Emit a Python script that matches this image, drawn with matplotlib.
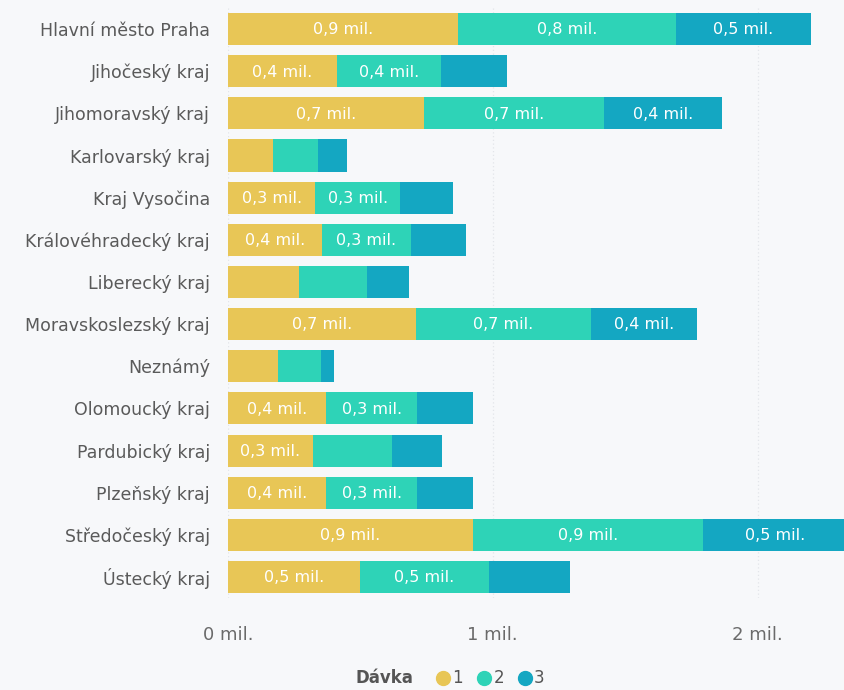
import matplotlib
matplotlib.use("Agg")
import matplotlib.pyplot as plt
from matplotlib.lines import Line2D
import numpy as np

regions = ["Hlavní město Praha", "Jihočeský kraj", "Jihomoravský kraj", "Karlovarský kraj",
           "Kraj Vysočina", "Královéhradecký kraj", "Liberecký kraj", "Moravskoslezský kraj",
           "Neznámý", "Olomoucký kraj", "Pardubický kraj", "Plzeňský kraj",
           "Středočeský kraj", "Ústecký kraj"]
dose1 = [0.87, 0.41, 0.74, 0.17, 0.33, 0.355, 0.27, 0.71, 0.19, 0.37, 0.32, 0.37, 0.925, 0.50]
dose2 = [0.82, 0.395, 0.68, 0.17, 0.32, 0.335, 0.255, 0.66, 0.16, 0.345, 0.30, 0.345, 0.87, 0.485]
dose3 = [0.51, 0.25, 0.445, 0.11, 0.20, 0.21, 0.16, 0.40, 0.05, 0.21, 0.19, 0.21, 0.54, 0.305]
series_names = ["1", "2", "3"]
colors = ["#E8C656", "#2ED3B7", "#14A7C2"]
xticks = [0, 1, 2]
xtick_labels = ["0 mil.", "1 mil.", "2 mil."]

plt.rcParams['font.family'] = ['DejaVu Sans']

fig = plt.figure(figsize=(8.45, 6.9), dpi=100)
bg = "#F7F8FA"
fig.patch.set_facecolor(bg)
ax = fig.add_axes([0.2698, 0.1333, 0.7302, 0.8551])
ax.set_facecolor(bg)

y = np.arange(len(regions))
left = np.zeros(len(regions))
for vals, col, name in zip([dose1, dose2, dose3], colors, series_names):
    vals = np.array(vals)
    ax.barh(y, vals, left=left, height=0.76, color=col, label=name, zorder=3)
    for yi, l, v in zip(y, left, vals):
        if v >= 0.31:
            txt = f"{v:.1f}".replace(".", ",") + " mil."
            ax.text(l + v / 2, yi + 0.02, txt, ha="center", va="center",
                    color="white", fontsize=11.5, zorder=4)
    left = left + vals

ax.set_ylim(len(regions) - 0.5, -0.5)
ax.set_xlim(0, 2.33)
ax.set_yticks(y)
ax.set_yticklabels(regions, fontsize=12.5, color="#5a5a5a")
ax.set_xticks(xticks)
ax.set_xticklabels(xtick_labels, fontsize=13, color="#6a6a6a")
ax.tick_params(axis="y", length=0, pad=13)
ax.tick_params(axis="x", length=0, pad=20)
for s in ax.spines.values():
    s.set_visible(False)
ax.grid(axis="x", color="#E3E5EA", linestyle=(0, (1, 2)), linewidth=0.9, zorder=0)
ax.set_axisbelow(True)

# legend
ly = 0.0174
fig.text(0.489, ly, "Dávka", fontsize=12, fontweight="bold", color="#555555",
         ha="right", va="center")
xs = [0.524, 0.573, 0.621]
for xpos, col, name in zip(xs, colors, series_names):
    fig.add_artist(Line2D([xpos], [ly], marker="o", markersize=10, color=col,
                          transform=fig.transFigure, linestyle="none"))
    fig.text(xpos + 0.011, ly, name, fontsize=12, color="#555555", ha="left", va="center")

fig.savefig("out.png", dpi=100, facecolor=bg)
